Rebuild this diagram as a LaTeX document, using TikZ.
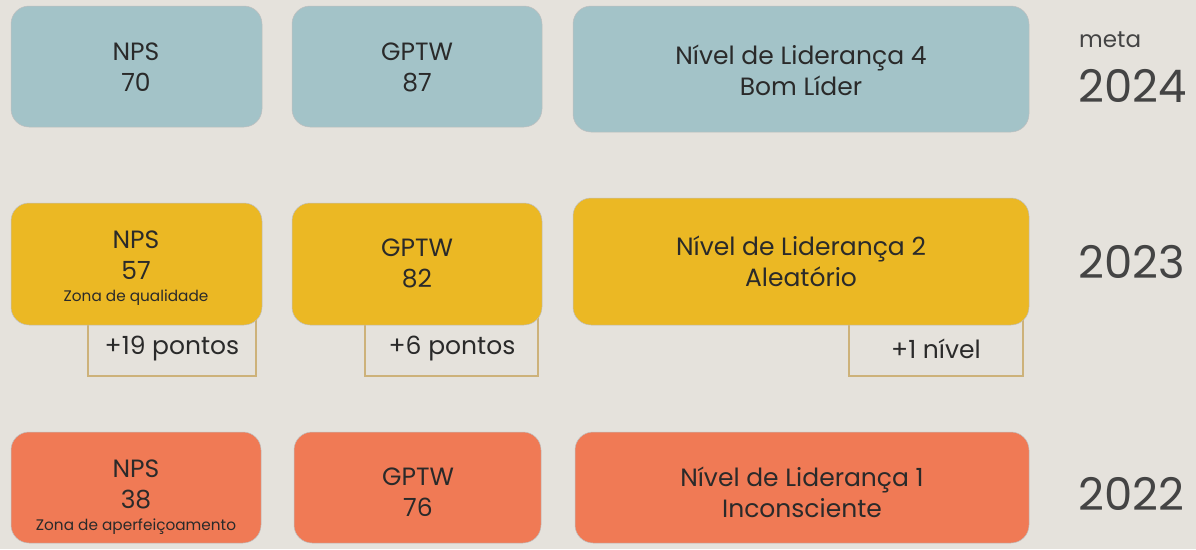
\documentclass[tikz,border=0pt]{standalone}
\usepackage{fontspec}
\setmainfont{Poppins}
\definecolor{bg}{HTML}{E5E2DC}
\definecolor{cblue}{HTML}{A3C3C8}
\definecolor{cyellow}{HTML}{EBB824}
\definecolor{corange}{HTML}{F07A55}
\definecolor{ink}{HTML}{2A2A2A}
\definecolor{yearink}{HTML}{444444}
\definecolor{tan}{HTML}{CDB27A}
\newcommand{\zonafont}{\fontsize{15.3}{16}\selectfont}
\begin{document}
\begin{tikzpicture}[x=1pt,y=-1pt,
  card/.style={rounded corners=18pt, draw=black!25, line width=0.5pt},
  lbl/.style={text=ink, font=\fontsize{25}{31}\selectfont, align=center, inner sep=0pt},
  delta/.style={draw=tan, line width=1.6pt, fill=bg},
  year/.style={text=yearink, font=\fontsize{45}{48}\selectfont, anchor=west, inner sep=0pt},
]
\fill[bg] (0,0) rectangle (1196,549);
\useasboundingbox (0,0) rectangle (1196,549);
% delta boxes (behind)
\draw[delta] (88,310) rectangle (256,376);
\node[lbl] (d1) at (172,349) {+19 pontos};
\draw[delta] (365,310) rectangle (538,376);
\node[lbl] (d2) at (452,349) {+6 pontos};
\draw[delta] (849,310) rectangle (1023,376);
\node[lbl] (d3) at (936,349) {+1 nível};
% 2024
\fill[cblue,card] (11,6) rectangle (262,127);
\node[lbl] (a1) at (136,67) {NPS\\70};
\fill[cblue,card] (292,6) rectangle (542,127);
\node[lbl] (a2) at (417,67) {GPTW\\87};
\fill[cblue,card] (573,6) rectangle (1029,132);
\node[lbl] (a3) at (801,70) {Nível de Liderança 4\\Bom Líder};
\node[text=yearink, font=\fontsize{23}{26}\selectfont, anchor=west, inner sep=0pt] (meta) at (1079,40) {meta};
\node[year] (y24) at (1078,86) {2024};
% 2023
\fill[cyellow,card] (11,203) rectangle (262,325);
\node[lbl] (b1) at (136,268) {NPS\\57\\[-9pt]{\zonafont Zona de qualidade}};
\fill[cyellow,card] (292,203) rectangle (542,325);
\node[lbl] (b2) at (417,263) {GPTW\\82};
\fill[cyellow,card] (573,198) rectangle (1029,325);
\node[lbl] (b3) at (801,261) {Nível de Liderança 2\\Aleatório};
\node[year] (y23) at (1078,262) {2023};
% 2022
\fill[corange,card] (11,432) rectangle (261,543);
\node[lbl] (c1) at (136,497) {NPS\\38\\[-9pt]{\zonafont Zona de aperfeiçoamento}};
\fill[corange,card] (294,432) rectangle (541,543);
\node[lbl] (c2) at (418,492) {GPTW\\76};
\fill[corange,card] (575,432) rectangle (1029,543);
\node[lbl] (c3) at (802,492) {Nível de Liderança 1\\Inconsciente};
\node[year] (y22) at (1078,494) {2022};
\end{tikzpicture}
\end{document}
